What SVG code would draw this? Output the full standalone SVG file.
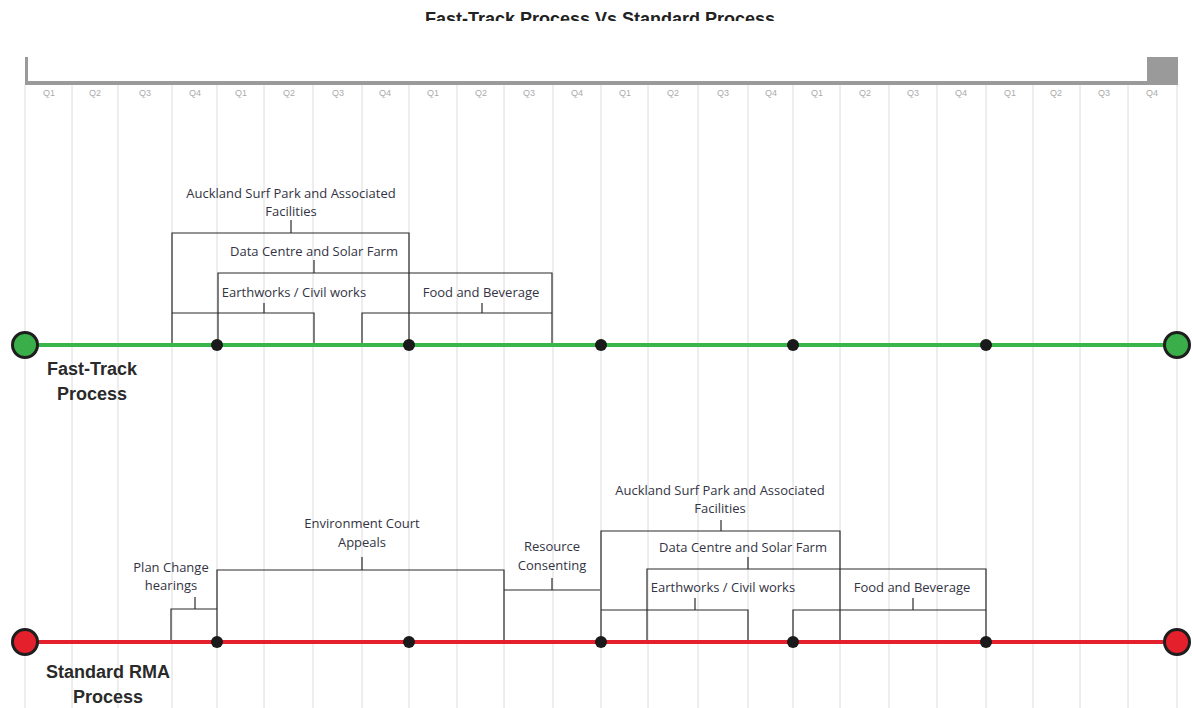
<svg xmlns="http://www.w3.org/2000/svg" width="1192" height="708" viewBox="0 0 1192 708">
<style>
.grid{stroke:#dcdcdc;stroke-width:1}
.q{font-family:"Liberation Sans",Arial,sans-serif;font-size:9px;fill:#ababab;text-anchor:middle}
.br{fill:none;stroke:#2b2b2b;stroke-width:1.2}
.lbl{font-family:"Open Sans","Liberation Sans",Arial,sans-serif;font-size:13px;fill:#333344;text-anchor:middle}
.big{font-family:"Liberation Sans",Arial,sans-serif;font-size:18px;font-weight:bold;fill:#2a2a2a;text-anchor:middle}
.dot{fill:#1a1a1a}
</style>
<defs>
<clipPath id="titleclip"><rect x="0" y="0" width="1192" height="21"/></clipPath>
</defs>
<rect width="1192" height="708" fill="#ffffff"/>
<g id="title" clip-path="url(#titleclip)">
<text x="600" y="25" style="font-family:'Liberation Sans',Arial,sans-serif;font-size:18px;font-weight:bold;fill:#222;text-anchor:middle">Fast-Track Process Vs Standard Process</text>
</g>
<g id="timeline-grid">
<g class="grid">
<line x1="25" y1="85" x2="25" y2="708"/><line x1="72" y1="85" x2="72" y2="708"/><line x1="118" y1="85" x2="118" y2="708"/><line x1="172" y1="85" x2="172" y2="708"/>
<line x1="217" y1="85" x2="217" y2="708"/><line x1="264" y1="85" x2="264" y2="708"/><line x1="313" y1="85" x2="313" y2="708"/><line x1="362" y1="85" x2="362" y2="708"/>
<line x1="409" y1="85" x2="409" y2="708"/><line x1="457" y1="85" x2="457" y2="708"/><line x1="504" y1="85" x2="504" y2="708"/><line x1="553" y1="85" x2="553" y2="708"/>
<line x1="601" y1="85" x2="601" y2="708"/><line x1="648" y1="85" x2="648" y2="708"/><line x1="698" y1="85" x2="698" y2="708"/><line x1="748" y1="85" x2="748" y2="708"/>
<line x1="793" y1="85" x2="793" y2="708"/><line x1="840" y1="85" x2="840" y2="708"/><line x1="889" y1="85" x2="889" y2="708"/><line x1="937" y1="85" x2="937" y2="708"/>
<line x1="986" y1="85" x2="986" y2="708"/><line x1="1033" y1="85" x2="1033" y2="708"/><line x1="1080" y1="85" x2="1080" y2="708"/><line x1="1128" y1="85" x2="1128" y2="708"/>
<line x1="1177" y1="85" x2="1177" y2="708"/>
</g>
<rect x="25" y="81" width="1153" height="4" fill="#9a9a9a"/>
<rect x="25" y="57" width="3" height="28" fill="#9a9a9a"/>
<rect x="1147" y="57" width="31" height="28" fill="#9a9a9a"/>
<g class="q">
<text x="49" y="96">Q1</text><text x="95" y="96">Q2</text><text x="145" y="96">Q3</text><text x="195" y="96">Q4</text>
<text x="241" y="96">Q1</text><text x="289" y="96">Q2</text><text x="338" y="96">Q3</text><text x="385" y="96">Q4</text>
<text x="433" y="96">Q1</text><text x="481" y="96">Q2</text><text x="529" y="96">Q3</text><text x="577" y="96">Q4</text>
<text x="625" y="96">Q1</text><text x="673" y="96">Q2</text><text x="723" y="96">Q3</text><text x="771" y="96">Q4</text>
<text x="817" y="96">Q1</text><text x="865" y="96">Q2</text><text x="913" y="96">Q3</text><text x="961" y="96">Q4</text>
<text x="1010" y="96">Q1</text><text x="1056" y="96">Q2</text><text x="1104" y="96">Q3</text><text x="1152" y="96">Q4</text>
</g>
</g>
<g id="connectors">
<path class="br" d="M172,346 V233 H409 V346 M291,233 V220"/>
<path class="br" d="M218,346 V273 H552 V346 M314,273 V260"/>
<path class="br" d="M172,313 H314 V346 M264,313 V303"/>
<path class="br" d="M362,346 V313 H552 M482,313 V303"/>
<path class="br" d="M171,642 V609 H217 M195,609 V597"/>
<path class="br" d="M217,642 V570 H504 V642 M362,570 V557"/>
<path class="br" d="M504,590 H600 M552,590 V578"/>
<path class="br" d="M601,642 V531 H840 V642 M721,531 V520"/>
<path class="br" d="M647,642 V569 H986 V642 M748,569 V557"/>
<path class="br" d="M601,610 H748 V642 M695,610 V598"/>
<path class="br" d="M793,642 V610 H986 M913,610 V598"/>
</g>
<g id="fast-track-line">
<line x1="25" y1="345" x2="1177" y2="345" stroke="#3ab54a" stroke-width="4"/>
<circle class="dot" cx="217" cy="345" r="6"/><circle class="dot" cx="409" cy="345" r="6"/><circle class="dot" cx="601" cy="345" r="6"/><circle class="dot" cx="793" cy="345" r="6"/><circle class="dot" cx="986" cy="345" r="6"/>
<circle cx="25" cy="345" r="12.5" fill="#3aae48" stroke="#1e1e1e" stroke-width="3"/>
<circle cx="1177" cy="345" r="12.5" fill="#3aae48" stroke="#1e1e1e" stroke-width="3"/>
<text class="big" x="92" y="375">Fast-Track</text>
<text class="big" x="92" y="400">Process</text>
</g>
<g id="standard-line">
<line x1="25" y1="642" x2="1177" y2="642" stroke="#e3202b" stroke-width="4"/>
<circle class="dot" cx="217" cy="642" r="6"/><circle class="dot" cx="409" cy="642" r="6"/><circle class="dot" cx="601" cy="642" r="6"/><circle class="dot" cx="793" cy="642" r="6"/><circle class="dot" cx="986" cy="642" r="6"/>
<circle cx="25" cy="642" r="12.5" fill="#e3202b" stroke="#1e1e1e" stroke-width="3"/>
<circle cx="1177" cy="642" r="12.5" fill="#e3202b" stroke="#1e1e1e" stroke-width="3"/>
<text class="big" x="108" y="678">Standard RMA</text>
<text class="big" x="108" y="703">Process</text>
</g>
<g id="ft-surf-park"><text class="lbl" x="291" y="198">Auckland Surf Park and Associated</text><text class="lbl" x="291" y="216">Facilities</text></g>
<g id="ft-data-centre"><text class="lbl" x="314" y="256">Data Centre and Solar Farm</text></g>
<g id="ft-earthworks"><text class="lbl" x="294" y="297">Earthworks / Civil works</text></g>
<g id="ft-food"><text class="lbl" x="481" y="297">Food and Beverage</text></g>
<g id="rma-plan-change"><text class="lbl" x="171" y="572">Plan Change</text><text class="lbl" x="171" y="590">hearings</text></g>
<g id="rma-env-court"><text class="lbl" x="362" y="528">Environment Court</text><text class="lbl" x="362" y="547">Appeals</text></g>
<g id="rma-resource"><text class="lbl" x="552" y="551">Resource</text><text class="lbl" x="552" y="570">Consenting</text></g>
<g id="rma-surf-park"><text class="lbl" x="720" y="495">Auckland Surf Park and Associated</text><text class="lbl" x="720" y="513">Facilities</text></g>
<g id="rma-data-centre"><text class="lbl" x="743" y="552">Data Centre and Solar Farm</text></g>
<g id="rma-earthworks"><text class="lbl" x="723" y="592">Earthworks / Civil works</text></g>
<g id="rma-food"><text class="lbl" x="912" y="592">Food and Beverage</text></g>
</svg>
